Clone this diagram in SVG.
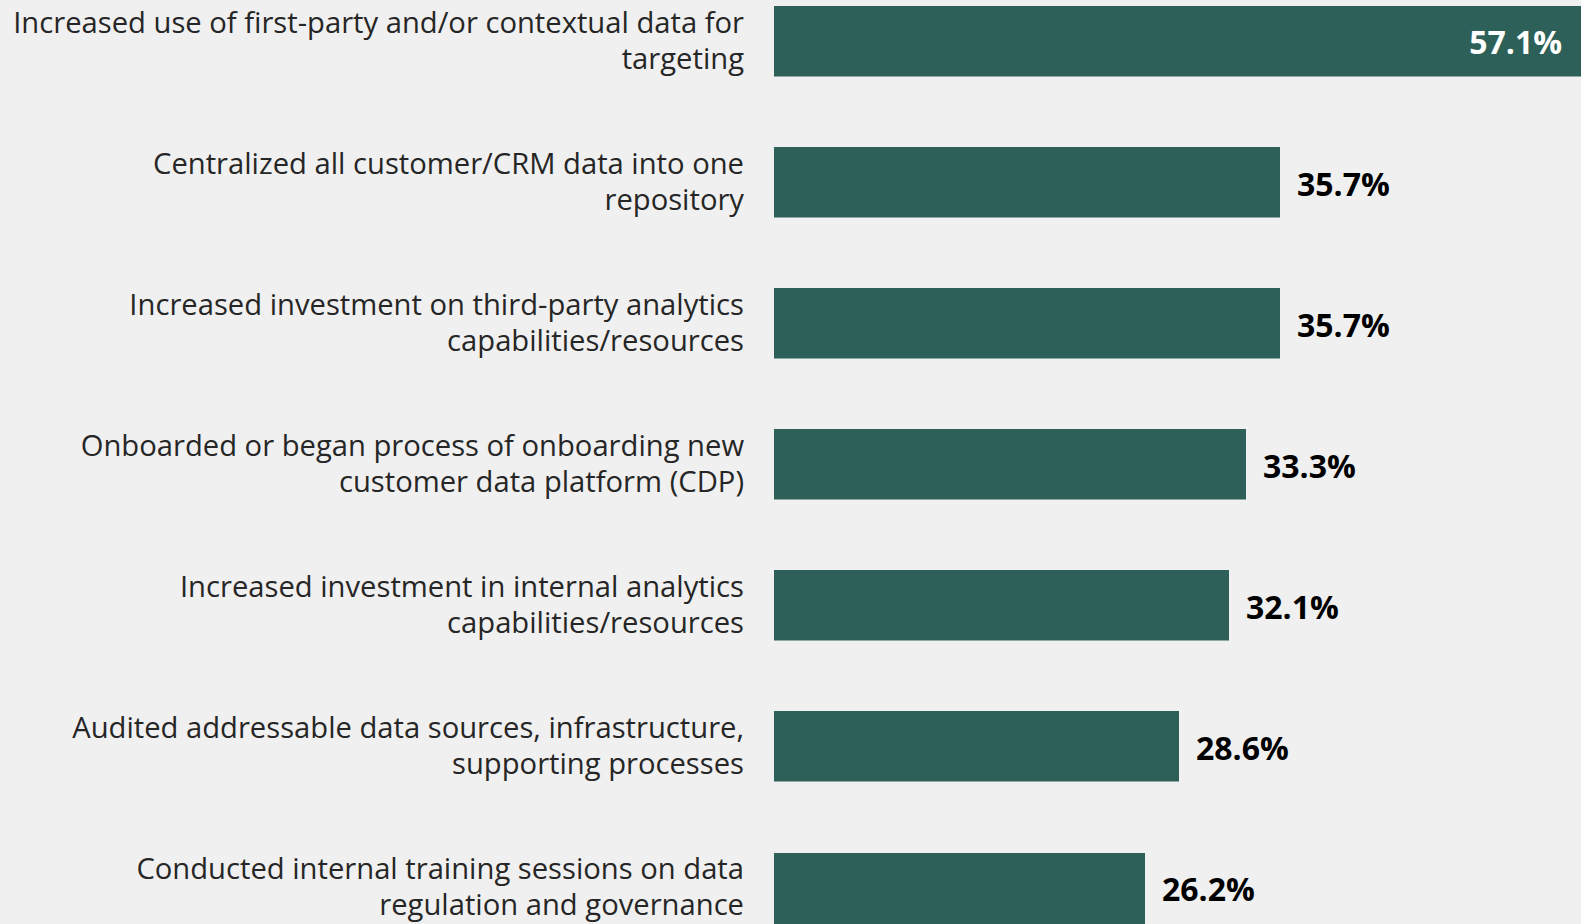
<svg xmlns="http://www.w3.org/2000/svg" width="1581" height="924" viewBox="0 0 1581 924">
<style>
.bg{fill:#f0f0f0}
.bar{fill:#2d6058}
.lbl{font-family:"Open Sans","Noto Sans",sans-serif;font-size:29.2px;fill:#262626;text-anchor:end}
.val{font-family:"Open Sans","Noto Sans",sans-serif;font-size:32px;font-weight:bold;fill:#000}
.valin{font-family:"Open Sans","Noto Sans",sans-serif;font-size:32px;font-weight:bold;fill:#fff;text-anchor:end}
</style>
<rect class="bg" x="0" y="0" width="1581" height="924"/>
<g id="row1">
<rect class="bar" x="774" y="6" width="810" height="70.5"/>
<text class="lbl" x="744" y="33">Increased use of first-party and/or contextual data for</text>
<text class="lbl" x="744" y="69">targeting</text>
<text class="valin" x="1562" y="54">57.1%</text>
</g>
<g id="row2">
<rect class="bar" x="774" y="147" width="506" height="70.5"/>
<text class="lbl" x="744" y="174">Centralized all customer/CRM data into one</text>
<text class="lbl" x="744" y="210">repository</text>
<text class="val" x="1297" y="196">35.7%</text>
</g>
<g id="row3">
<rect class="bar" x="774" y="288" width="506" height="70.5"/>
<text class="lbl" x="744" y="315">Increased investment on third-party analytics</text>
<text class="lbl" x="744" y="351">capabilities/resources</text>
<text class="val" x="1297" y="337">35.7%</text>
</g>
<g id="row4">
<rect class="bar" x="774" y="429" width="472" height="70.5"/>
<text class="lbl" x="744" y="456">Onboarded or began process of onboarding new</text>
<text class="lbl" x="744" y="492">customer data platform (CDP)</text>
<text class="val" x="1263" y="478">33.3%</text>
</g>
<g id="row5">
<rect class="bar" x="774" y="570" width="455" height="70.5"/>
<text class="lbl" x="744" y="597">Increased investment in internal analytics</text>
<text class="lbl" x="744" y="633">capabilities/resources</text>
<text class="val" x="1246" y="619">32.1%</text>
</g>
<g id="row6">
<rect class="bar" x="774" y="711" width="405" height="70.5"/>
<text class="lbl" x="744" y="738">Audited addressable data sources, infrastructure,</text>
<text class="lbl" x="744" y="774">supporting processes</text>
<text class="val" x="1196" y="760">28.6%</text>
</g>
<g id="row7">
<rect class="bar" x="774" y="853" width="371" height="71"/>
<text class="lbl" x="744" y="879">Conducted internal training sessions on data</text>
<text class="lbl" x="744" y="915">regulation and governance</text>
<text class="val" x="1162" y="901">26.2%</text>
</g>
<g id="connectors"/>
</svg>
